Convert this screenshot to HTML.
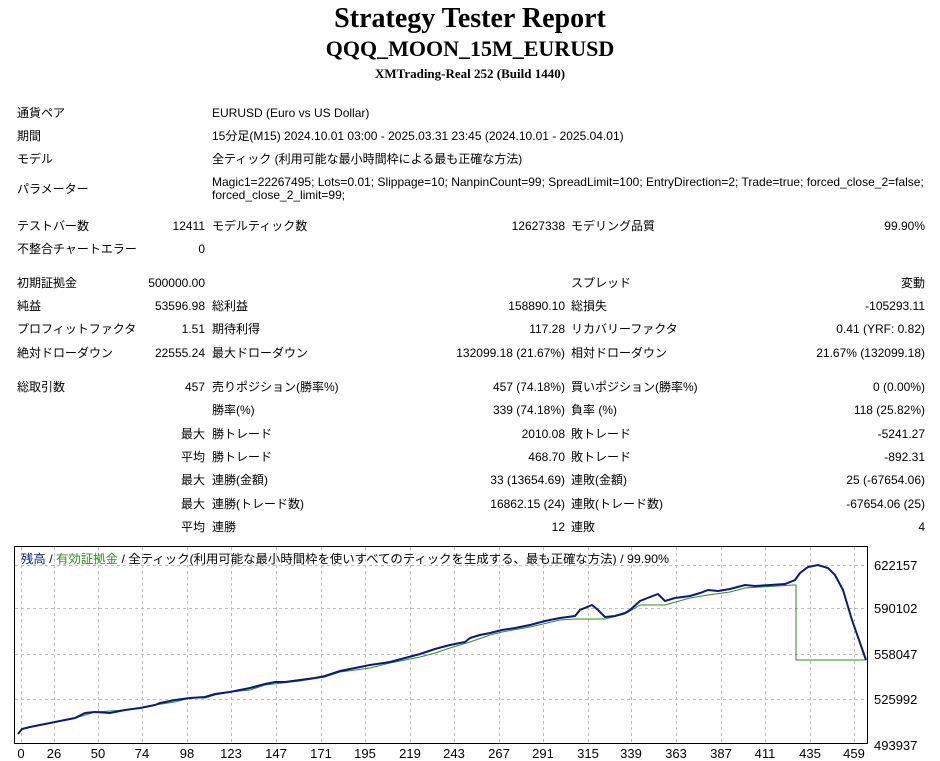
<!DOCTYPE html>
<html><head><meta charset="utf-8"><style>
body{margin:0;width:940px;height:761px;background:#fff;position:relative;overflow:hidden;font-family:"Liberation Sans","Noto Sans CJK JP",sans-serif;font-size:12px;color:#000}
.t{position:absolute;white-space:nowrap;line-height:14px}
.r{text-align:right}
.h{position:absolute;left:0;width:940px;text-align:center;font-family:"Liberation Serif",serif;font-weight:bold;white-space:nowrap}
</style></head><body>
<div class="h" style="top:3px;font-size:28px;line-height:32px">Strategy Tester Report</div>
<div class="h" style="top:36px;font-size:22px;line-height:26px">QQQ_MOON_15M_EURUSD</div>
<div class="h" style="top:66px;font-size:13px;line-height:16px">XMTrading-Real 252 (Build 1440)</div>

<div class="t" style="left:17px;top:106px">通貨ペア</div><div class="t" style="left:212px;top:106px">EURUSD (Euro vs US Dollar)</div>
<div class="t" style="left:17px;top:129px">期間</div><div class="t" style="left:212px;top:129px">15分足(M15) 2024.10.01 03:00 - 2025.03.31 23:45 (2024.10.01 - 2025.04.01)</div>
<div class="t" style="left:17px;top:152px">モデル</div><div class="t" style="left:212px;top:152px">全ティック (利用可能な最小時間枠による最も正確な方法)</div>
<div class="t" style="left:17px;top:182px">パラメーター</div><div class="t" style="left:212px;top:176px;line-height:13px">Magic1=22267495; Lots=0.01; Slippage=10; NanpinCount=99; SpreadLimit=100; EntryDirection=2; Trade=true; forced_close_2=false;<br>forced_close_2_limit=99;</div>

<div id="rows"></div>
<script>
var R=[
[219,"テストバー数","12411","モデルティック数","12627338","モデリング品質","99.90%"],
[242,"不整合チャートエラー","0","","","",""],
[276,"初期証拠金","500000.00","","","スプレッド","変動"],
[299,"純益","53596.98","総利益","158890.10","総損失","-105293.11"],
[322,"プロフィットファクタ","1.51","期待利得","117.28","リカバリーファクタ","0.41 (YRF: 0.82)"],
[346,"絶対ドローダウン","22555.24","最大ドローダウン","132099.18 (21.67%)","相対ドローダウン","21.67% (132099.18)"],
[380,"総取引数","457","売りポジション(勝率%)","457 (74.18%)","買いポジション(勝率%)","0 (0.00%)"],
[403,"","","勝率(%)","339 (74.18%)","負率 (%)","118 (25.82%)"],
[427,"","最大","勝トレード","2010.08","敗トレード","-5241.27"],
[450,"","平均","勝トレード","468.70","敗トレード","-892.31"],
[473,"","最大","連勝(金額)","33 (13654.69)","連敗(金額)","25 (-67654.06)"],
[497,"","最大","連勝(トレード数)","16862.15 (24)","連敗(トレード数)","-67654.06 (25)"],
[520,"","平均","連勝","12","連敗","4"]];
var h="";
R.forEach(function(r){var y=r[0];
h+='<div class="t" style="left:17px;top:'+y+'px">'+r[1]+'</div>';
h+='<div class="t r" style="right:735px;top:'+y+'px">'+r[2]+'</div>';
h+='<div class="t" style="left:212px;top:'+y+'px">'+r[3]+'</div>';
h+='<div class="t r" style="right:375px;top:'+y+'px">'+r[4]+'</div>';
h+='<div class="t" style="left:571px;top:'+y+'px">'+r[5]+'</div>';
h+='<div class="t r" style="right:15px;top:'+y+'px">'+r[6]+'</div>';});
document.getElementById("rows").innerHTML=h;
</script>

<svg style="position:absolute;left:0;top:0" width="940" height="761">
<rect x="14.5" y="546.5" width="853" height="197" fill="#fff" stroke="#000"/>
<g stroke="#bbb" stroke-dasharray="3,3" stroke-width="1">
<line x1="15" x2="867" y1="565.5" y2="565.5"/><line x1="15" x2="867" y1="608.5" y2="608.5"/><line x1="15" x2="867" y1="654.5" y2="654.5"/><line x1="15" x2="867" y1="699.5" y2="699.5"/>
<g id="vg"></g>
</g>
<polyline fill="none" stroke="#2e8b22" stroke-width="1" points="18,734 22,729 30,727 45,724 60,721 75,718 82,716 95,712 125,710 140,708 155,705 175,702 190,698 205,698 215,695 230,692 250,690 265,685 300,681 325,677 340,672 355,670 370,668 390,663 405,660 420,657 435,653 450,648 470,642 490,635 502,632 530,627 560,620 575,619 598,619 605,619 625,614 640,605 665,605 690,598 708,595 730,592 745,588 793,585 796,585 796,660 866,660"/>
<polyline fill="none" stroke="#0a1a7a" stroke-width="2" points="18,734 22,729 30,727 45,724 60,721 75,718 85,713 95,712 110,713 125,710 140,708 155,705 160,703 175,700 190,698 205,697 215,694 230,692 250,688 265,684 275,682 285,682 300,680 315,678 325,676 340,671 355,668 370,665 390,662 405,658 420,654 435,649 450,645 465,642 470,638 480,635 490,633 502,630 515,628 530,625 545,621 560,618 575,616 580,610 592,605 598,610 605,617 615,616 625,613 630,610 640,601 650,597 658,594 665,601 675,598 690,596 700,593 708,590 718,591 730,589 745,585 755,586 770,585 785,584 795,580 800,573 808,567 818,565 828,568 835,575 843,590 852,620 866,660"/>
<text x="21" y="563" font-size="12" textLength="648" lengthAdjust="spacingAndGlyphs" font-family="Liberation Sans,Noto Sans CJK JP,sans-serif"><tspan fill="#0a1a7a">残高</tspan> / <tspan fill="#2e8b22">有効証拠金</tspan> / 全ティック(利用可能な最小時間枠を使いすべてのティックを生成する、最も正確な方法) / 99.90%</text>
<g font-size="13" font-family="Liberation Sans,sans-serif">
<text x="874" y="570">622157</text><text x="874" y="613">590102</text><text x="874" y="659">558047</text><text x="874" y="704">525992</text><text x="874" y="750">493937</text>
<g id="xl" text-anchor="middle"></g>
</g>
</svg>
<script>
var xs=[[0,21],[26,54],[50,98],[74,142],[98,187],[123,231],[147,276],[171,321],[195,365],[219,410],[243,454],[267,499],[291,543],[315,588],[339,631],[363,676],[387,721],[411,765],[435,810],[459,854]];
var g="",l="";
xs.forEach(function(p){g+='<line x1="'+(p[1]+.5)+'" x2="'+(p[1]+.5)+'" y1="547" y2="743"/>';l+='<text x="'+p[1]+'" y="758">'+p[0]+'</text>';});
document.getElementById("vg").innerHTML=g;document.getElementById("xl").innerHTML=l;
</script>
</body></html>
